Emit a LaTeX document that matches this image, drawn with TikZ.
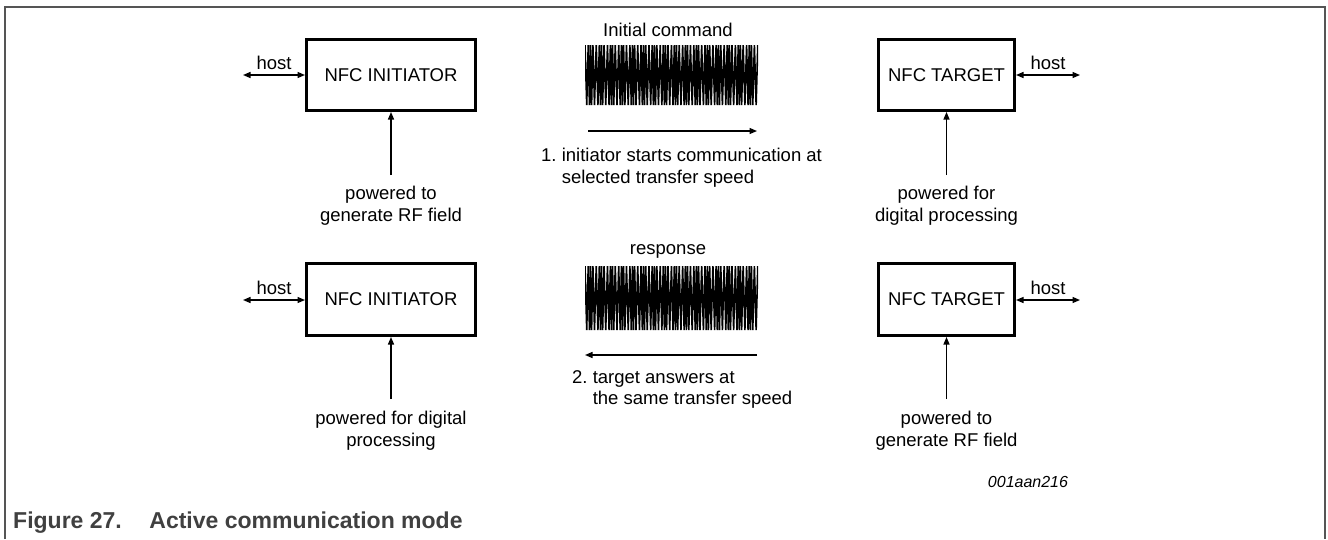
\documentclass[tikz,border=0pt]{standalone}
\usepackage{fontspec}
\setmainfont{Liberation Sans}
\usetikzlibrary{arrows.meta}
\frenchspacing

\definecolor{framegray}{HTML}{555555}
\definecolor{capgray}{HTML}{404040}

\tikzset{
  nfcbox/.style={draw, line width=2.6pt, inner sep=0pt, minimum height=71.4pt,
    font=\fontsize{18.5}{22}\selectfont},
  arr/.style={line width=1.3pt, -{Triangle[length=7.5pt,width=6pt]}},
  harr/.style={line width=1.3pt, {Triangle[length=7.5pt,width=6pt]}-{Triangle[length=7.5pt,width=6pt]}},
  lbl/.style={font=\fontsize{18.5}{22}\selectfont, inner sep=0pt, align=center},
}

\begin{document}
\begin{tikzpicture}[x=1pt,y=-1pt]
\useasboundingbox (0,0) rectangle (1328,539);
\draw[framegray, line width=1.3pt] (5,539) -- (5,7) -- (1325,7) -- (1325,539);

% boxes
\node[nfcbox, minimum width=169.4pt] (ini1) at (391,75) {NFC INITIATOR};
\node[nfcbox, minimum width=136.4pt] (tgt1) at (946.5,75) {NFC TARGET};
\node[nfcbox, minimum width=169.4pt, minimum height=72.4pt] (ini2) at (391,299.5) {NFC INITIATOR};
\node[nfcbox, minimum width=136.4pt, minimum height=72.4pt] (tgt2) at (946.5,299.5) {NFC TARGET};

% host links
\coordinate (hi1) at (243,75);
\coordinate (ht1) at (1080,75);
\coordinate (hi2) at (243,300);
\coordinate (ht2) at (1080,300);
\draw[harr] (hi1) -- (ini1.west) node[midway, above=5pt, lbl] (hosti1) {host};
\draw[harr] (tgt1.east) -- (ht1) node[midway, above=5pt, lbl] (hostt1) {host};
\draw[harr] (hi2) -- (ini2.west |- hi2) node[midway, above=5pt, lbl] (hosti2) {host};
\draw[harr] (tgt2.east |- ht2) -- (ht2) node[midway, above=5pt, lbl] (hostt2) {host};

% power supply
\node[lbl] (pwi1) at (391,205.5) {powered to\\generate RF field};
\node[lbl] (pwt1) at (946.5,205.5) {powered for\\digital processing};
\node[lbl] (pwi2) at (391,430.5) {powered for digital\\processing};
\node[lbl] (pwt2) at (946.5,430.5) {powered to\\generate RF field};
\draw[arr, shorten <=10.5pt] (pwi1.north) -- (ini1.south);
\draw[arr, shorten <=10.5pt] (pwt1.north) -- (tgt1.south);
\draw[arr, shorten <=11.5pt] (pwi2.north) -- (ini2.south);
\draw[arr, shorten <=11.5pt] (pwt2.north) -- (tgt2.south);

% signals
\node[lbl] (cmd) at (668,30) {Initial command};
\node[lbl] (resp) at (668,251) {response};
\foreach \yt/\h in {45/60, 266/64} {
  \begin{scope}
    \clip (585,\yt) rectangle (758,\yt+\h);
    \draw[line width=1.6pt] (585,\yt) \foreach \i in {1,...,124} { -- ({585+\i*1.39+0.45*sin(\i*47)}, {\yt+\h*mod(\i,2)}) };
  \end{scope}
}
\coordinate (s1a) at (588,131);
\coordinate (s1b) at (757,131);
\coordinate (s2a) at (757,355);
\coordinate (s2b) at (585,355);
\draw[arr] (s1a) -- (s1b);
\draw[arr] (s2a) -- (s2b);
\node[lbl, align=left, anchor=north west, font=\fontsize{18.5}{21.5}\selectfont] (step1) at (541,148)
  {1. initiator starts communication at\\\hphantom{1. }selected transfer speed};
\node[lbl, align=left, anchor=north west, font=\fontsize{18.5}{21.5}\selectfont] (step2) at (572,370)
  {2. target answers at\\\hphantom{2. }the same transfer speed};

\node[font=\itshape\fontsize{16}{18}\selectfont, inner sep=0pt] (code) at (1028,482) {001aan216};
\node[anchor=base west, inner sep=0pt, text=capgray, font=\bfseries\fontsize{23}{26}\selectfont] (cap) at (13,528)
  {Figure 27.\hspace{1.2em}Active communication mode};
\end{tikzpicture}
\end{document}
